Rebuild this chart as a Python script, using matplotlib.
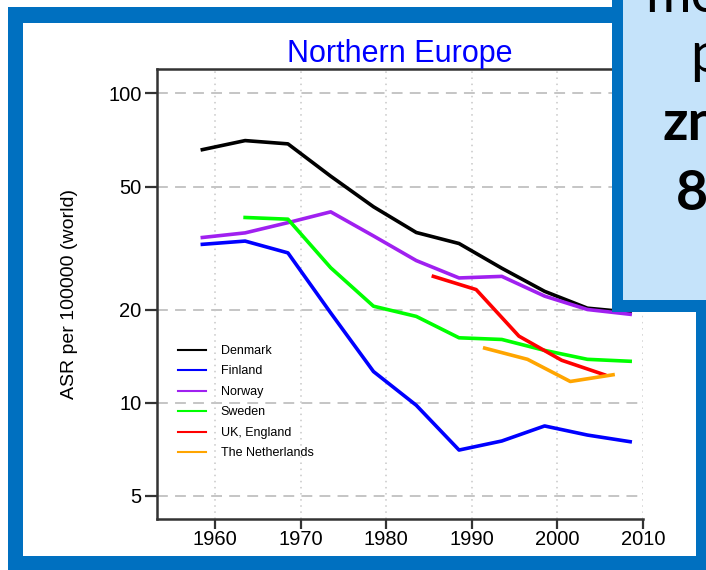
import numpy as np
import matplotlib.pyplot as plt
from matplotlib.patches import Rectangle

# 5-year period midpoints
years = [1958.5, 1963.5, 1968.5, 1973.5, 1978.5, 1983.5, 1988.5, 1993.5, 1998.5, 2003.5, 2008.5]
denmark = [65.8, 70.4, 68.7, 54.0, 43.0, 35.5, 32.7, 27.2, 22.9, 20.2, 19.6]
finland = [32.5, 33.3, 30.5, 19.5, 12.6, 9.8, 7.02, 7.51, 8.40, 7.85, 7.47]
norway = [34.2, 35.4, 38.2, 41.4, 34.6, 28.8, 25.3, 25.6, 22.1, 20.0, 19.3]
sweden_years = years[1:]
sweden = [39.7, 39.2, 27.3, 20.5, 19.0, 16.2, 16.0, 14.75, 13.8, 13.6]
uk_years = [1985.5, 1990.5, 1995.5, 2000.5, 2005.5]
uk = [25.6, 23.2, 16.4, 13.7, 12.3]
nl_years = [1991.5, 1996.5, 2001.5, 2006.5]
nl = [15.0, 13.8, 11.7, 12.3]

yticks = [5, 10, 20, 50, 100]
xticks = [1960, 1970, 1980, 1990, 2000, 2010]

W, H = 706, 570
fig = plt.figure(figsize=(W / 100, H / 100), dpi=100)
plt.rcParams['font.family'] = ['Liberation Sans', 'DejaVu Sans']

ax = fig.add_axes([157 / W, 1 - 519 / H, (643 - 157) / W, (519 - 69) / H])
ax.set_yscale('log')
ax.set_ylim(4.2, 120)
ax.set_xlim(1953.2, 2010)

for yv in yticks:
    ax.axhline(yv, color='#c0c0c0', lw=1.3, ls=(0, (6, 4)), zorder=1)
for xv in xticks:
    ax.axvline(xv, color='#c8c8c8', lw=1.1, ls=(0, (1, 3)), zorder=1)

lw = 2.6
ax.plot(years, denmark, color='black', lw=lw, label='Denmark', zorder=3)
ax.plot(years, finland, color='#0000ff', lw=lw, label='Finland', zorder=3)
ax.plot(years, norway, color='#a020f0', lw=lw, label='Norway', zorder=3)
ax.plot(sweden_years, sweden, color='#00ff00', lw=lw, label='Sweden', zorder=3)
ax.plot(uk_years, uk, color='#ff0000', lw=lw, label='UK, England', zorder=3)
ax.plot(nl_years, nl, color='#ffa500', lw=lw, label='The Netherlands', zorder=3)

ax.set_yticks(yticks)
ax.set_yticklabels([str(v) for v in yticks])
ax.yaxis.set_minor_locator(plt.NullLocator())
ax.set_xticks(xticks)
ax.tick_params(axis='both', labelsize=14.5, width=1.6, color='#333333', direction='out')
ax.tick_params(axis='y', length=9, pad=2)
ax.tick_params(axis='x', length=7, pad=1)
ax.spines['right'].set_visible(False)
for s in ['left', 'bottom', 'top']:
    ax.spines[s].set_linewidth(1.8)
    ax.spines[s].set_color('#333333')
ax.set_ylabel('ASR per 100000 (world)', fontsize=14, labelpad=22)
ax.set_title('Northern Europe', color='#0000ff', fontsize=22, pad=1)

leg = ax.legend(loc='upper left', bbox_to_anchor=(0.033, 0.398), frameon=False,
                fontsize=9, handlelength=2.2, handletextpad=1.2, labelspacing=0.68,
                borderaxespad=0)
for line in leg.get_lines():
    line.set_linewidth(1.5)

# outer slide frame
blue = '#0070c0'
def px_rect(x0, y0, x1, y1, color, z):
    fig.patches.append(Rectangle((x0 / W, 1 - y1 / H), (x1 - x0) / W, (y1 - y0) / H,
                                 transform=fig.transFigure, color=color, zorder=z, lw=0))

px_rect(8, 7, 23, 572, blue, 5)
px_rect(8, 7, 708, 23, blue, 5)
px_rect(696, 7, 708, 572, blue, 5)
px_rect(8, 556, 708, 572, blue, 5)

# overlay callout box (cut off by the right edge, as in the source)
px_rect(612, -5, 708, 312, blue, 6)
px_rect(623, -5, 708, 300, '#c5e3fa', 7)

box_font = ['Lato', 'DejaVu Sans']
fig.text(645 / W, 1 - 12 / H, 'me', fontsize=40, family=box_font, va='baseline', zorder=8)
fig.text(690 / W, 1 - 72 / H, 'p', fontsize=40, family=box_font, va='baseline', zorder=8)
fig.text(662 / W, 1 - 140 / H, 'zn', fontsize=40, family=box_font, weight='bold', va='baseline', zorder=8)
fig.text(676 / W, 1 - 210 / H, '8', fontsize=40, family=box_font, weight='bold', va='baseline', zorder=8)

fig.savefig('out.png', dpi=100)
